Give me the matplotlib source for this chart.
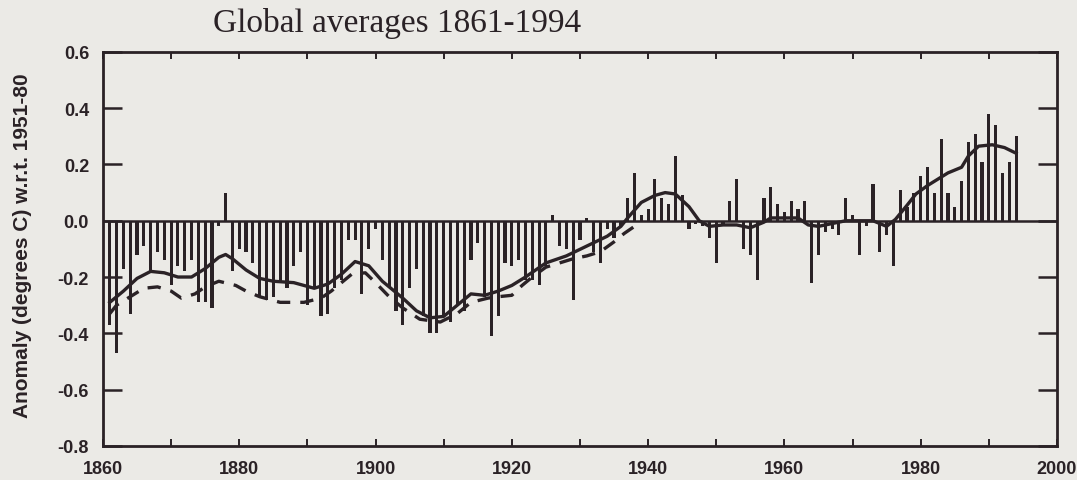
import numpy as np
import matplotlib
matplotlib.use('Agg')
import matplotlib.pyplot as plt
from matplotlib.ticker import MultipleLocator

# annual global anomalies (deg C, w.r.t. 1951-80)
years = np.arange(1861, 1995)
anomaly = [
    -0.37, -0.47, -0.17, -0.33, -0.12, -0.09, -0.18, -0.11, -0.14,          # 1861-69
    -0.23, -0.16, -0.18, -0.14, -0.29, -0.29, -0.31, -0.02, 0.10, -0.18,    # 1870-79
    -0.10, -0.11, -0.15, -0.27, -0.28, -0.27, -0.22, -0.24, -0.16, -0.11,   # 1880-89
    -0.30, -0.24, -0.34, -0.33, -0.24, -0.21, -0.07, -0.07, -0.26, -0.10,   # 1890-99
    -0.03, -0.14, -0.24, -0.32, -0.37, -0.24, -0.17, -0.34, -0.40, -0.40,   # 1900-09
    -0.34, -0.36, -0.30, -0.32, -0.14, -0.08, -0.27, -0.41, -0.34, -0.15,   # 1910-19
    -0.16, -0.14, -0.21, -0.21, -0.23, -0.16, 0.02, -0.09, -0.10, -0.28,    # 1920-29
    -0.07, 0.01, -0.11, -0.15, -0.03, -0.06, -0.02, 0.08, 0.17, 0.02,       # 1930-39
    0.04, 0.15, 0.08, 0.06, 0.23, 0.09, -0.03, -0.01, -0.02, -0.06,         # 1940-49
    -0.15, -0.01, 0.07, 0.15, -0.10, -0.12, -0.21, 0.08, 0.12, 0.06,        # 1950-59
    0.03, 0.07, 0.04, 0.07, -0.22, -0.12, -0.04, -0.03, -0.05, 0.08,        # 1960-69
    0.02, -0.12, -0.02, 0.13, -0.11, -0.05, -0.16, 0.11, 0.05, 0.10,        # 1970-79
    0.16, 0.19, 0.10, 0.29, 0.10, 0.05, 0.14, 0.28, 0.31, 0.21,             # 1980-89
    0.38, 0.34, 0.17, 0.21, 0.30,                                           # 1990-94
]

# smoothed curve (solid), read at points along the line
smooth_yr = [1861, 1863, 1865, 1867, 1869, 1871, 1873, 1875, 1877, 1878, 1879,
             1881, 1883, 1885, 1888, 1891, 1893, 1895, 1897, 1899, 1901, 1904,
             1906, 1908, 1910, 1912, 1914, 1916, 1918, 1920, 1922, 1925, 1928,
             1931, 1934, 1936, 1937, 1939, 1941, 1942.5, 1944, 1946, 1947.5,
             1949, 1951, 1953, 1955, 1957, 1958, 1960, 1962, 1963.5, 1965,
             1967, 1969, 1971, 1973, 1975, 1976.3, 1978, 1979.3, 1981, 1983,
             1984, 1986, 1987, 1988.5, 1990.5, 1992.3, 1994]
smooth_val = [-0.29, -0.25, -0.205, -0.18, -0.185, -0.20, -0.20, -0.17, -0.13,
              -0.12, -0.135, -0.175, -0.205, -0.215, -0.22, -0.24, -0.225,
              -0.19, -0.145, -0.16, -0.215, -0.275, -0.32, -0.345, -0.34, -0.30,
              -0.26, -0.265, -0.25, -0.23, -0.20, -0.15, -0.125, -0.09, -0.055,
              -0.02, 0.01, 0.065, 0.09, 0.10, 0.095, 0.05, 0.0, -0.02, -0.015,
              -0.015, -0.025, -0.005, 0.01, 0.01, 0.01, -0.015, -0.02, -0.01,
              0.0, 0.0, 0.0, -0.02, 0.005, 0.055, 0.095, 0.125, 0.155, 0.17,
              0.19, 0.23, 0.265, 0.27, 0.26, 0.24]

# second (dashed) curve, up to ~1938
dash_yr = [1861, 1862, 1864, 1866, 1868, 1870, 1871.5, 1873.5, 1875, 1877,
           1879.5, 1881, 1883, 1886, 1889.5, 1892, 1893.5, 1895, 1896.5,
           1898.5, 1900, 1902, 1904, 1906.5, 1909.5, 1912, 1914, 1916.5, 1918,
           1920, 1921.5, 1923, 1925, 1927, 1929, 1931, 1933, 1935, 1936.5, 1938]
dash_val = [-0.33, -0.30, -0.27, -0.24, -0.235, -0.25, -0.275, -0.26, -0.235,
            -0.215, -0.23, -0.25, -0.27, -0.29, -0.29, -0.275, -0.25, -0.22,
            -0.19, -0.185, -0.22, -0.27, -0.31, -0.35, -0.36, -0.33, -0.29,
            -0.275, -0.27, -0.265, -0.23, -0.20, -0.165, -0.15, -0.135, -0.125,
            -0.11, -0.075, -0.045, -0.02]

paper = '#ebeae6'
ink = '#2a2226'

fig = plt.figure(figsize=(10.77, 4.81), dpi=100, facecolor=paper)
ax = fig.add_axes([0.0956, 0.071, 0.8858, 0.819], facecolor=paper)

ax.bar(years, anomaly, width=0.46, color=ink, zorder=2)
ax.axhline(0, color=ink, linewidth=1.8, zorder=3)
ax.plot(smooth_yr, smooth_val, color=ink, linewidth=2.4, zorder=4)
ax.plot(dash_yr, dash_val, color=ink, linewidth=2.4, linestyle=(0, (4, 3)), zorder=4)

ax.set_xlim(1860, 2000)
ax.set_ylim(-0.8, 0.6)
ax.xaxis.set_major_locator(MultipleLocator(20))
ax.xaxis.set_minor_locator(MultipleLocator(10))
ax.yaxis.set_major_locator(MultipleLocator(0.2))
ax.yaxis.set_major_formatter(matplotlib.ticker.FormatStrFormatter('%.1f'))

ax.tick_params(axis='y', which='major', direction='in', length=14, width=1.8,
               left=True, right=True, pad=10, colors=ink)
ax.tick_params(axis='x', which='both', direction='in', length=5, width=1.4,
               top=True, bottom=True, pad=10, colors=ink)
for lab in ax.get_xticklabels() + ax.get_yticklabels():
    lab.set_fontfamily('Liberation Sans')
    lab.set_fontweight('bold')
    lab.set_fontsize(13)
for s in ax.spines.values():
    s.set_linewidth(2.0)
    s.set_color(ink)

fig.text(0.369, 0.952, 'Global averages 1861-1994', ha='center', va='center',
         family='Liberation Serif', fontsize=24, color=ink)
fig.text(0.021, 0.49, 'Anomaly (degrees C) w.r.t. 1951-80', rotation=90,
         ha='center', va='center', family='Liberation Sans', fontweight='bold',
         fontsize=15, color=ink)

fig.savefig('out.png', dpi=100, facecolor=paper)
